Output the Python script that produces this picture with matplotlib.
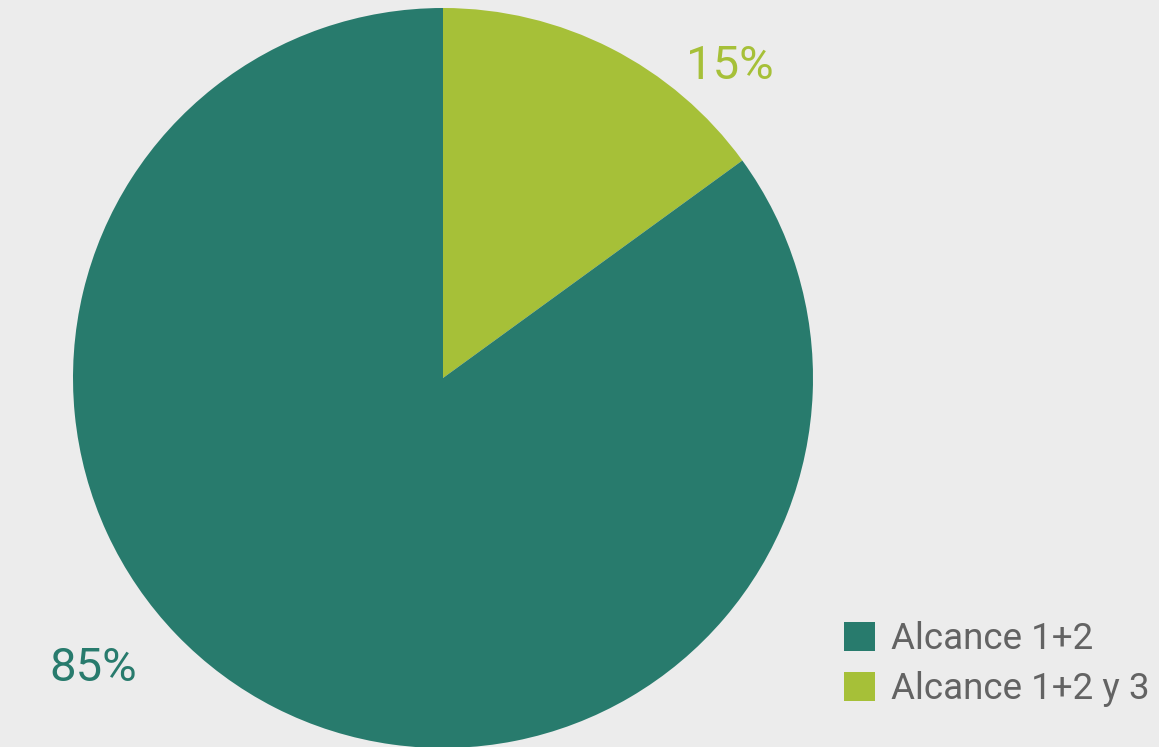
import matplotlib.pyplot as plt
from matplotlib.patches import Patch

# Emisiones por alcance
categorias = ['Alcance 1+2 y 3', 'Alcance 1+2']
valores = [15, 85]
colores = ['#a6c038', '#287b6d']

# posicion de las etiquetas de porcentaje (unidades del radio)
pos_etiquetas = [(0.776, 0.843), (-0.946, -0.784)]

plt.rcParams['font.family'] = ['Roboto', 'DejaVu Sans']

W, H = 1159, 747
fig = plt.figure(figsize=(W / 100, H / 100), dpi=100)
fig.patch.set_facecolor('#ececec')

# centro del grafico en (443, 378) px, radio 370 px
cx, cy, r = 443, 378, 370
ax = fig.add_axes([(cx - r) / W, (H - cy - r) / H, 2 * r / W, 2 * r / H])
ax.set_facecolor('none')

wedges, _ = ax.pie(valores, colors=colores, startangle=90, counterclock=False,
                   radius=1, wedgeprops={'linewidth': 0})
ax.set_xlim(-1, 1)
ax.set_ylim(-1, 1)
ax.set_aspect('equal')
ax.axis('off')

for v, c, (x, y) in zip(valores, colores, pos_etiquetas):
    ax.text(x, y, f'{v}%', color=c, fontsize=34, ha='center', va='center',
            clip_on=False)

handles = [Patch(facecolor=colores[1], label=categorias[1]),
           Patch(facecolor=colores[0], label=categorias[0])]
fig.legend(handles=handles, loc='upper left',
           bbox_to_anchor=(826 / W, 1 - 603 / H), frameon=False,
           fontsize=26.5, labelcolor='#636363', borderpad=0,
           handlelength=0.82, handleheight=0.82, handletextpad=0.45,
           labelspacing=0.37)

fig.savefig('out.png', dpi=100, facecolor=fig.get_facecolor())
